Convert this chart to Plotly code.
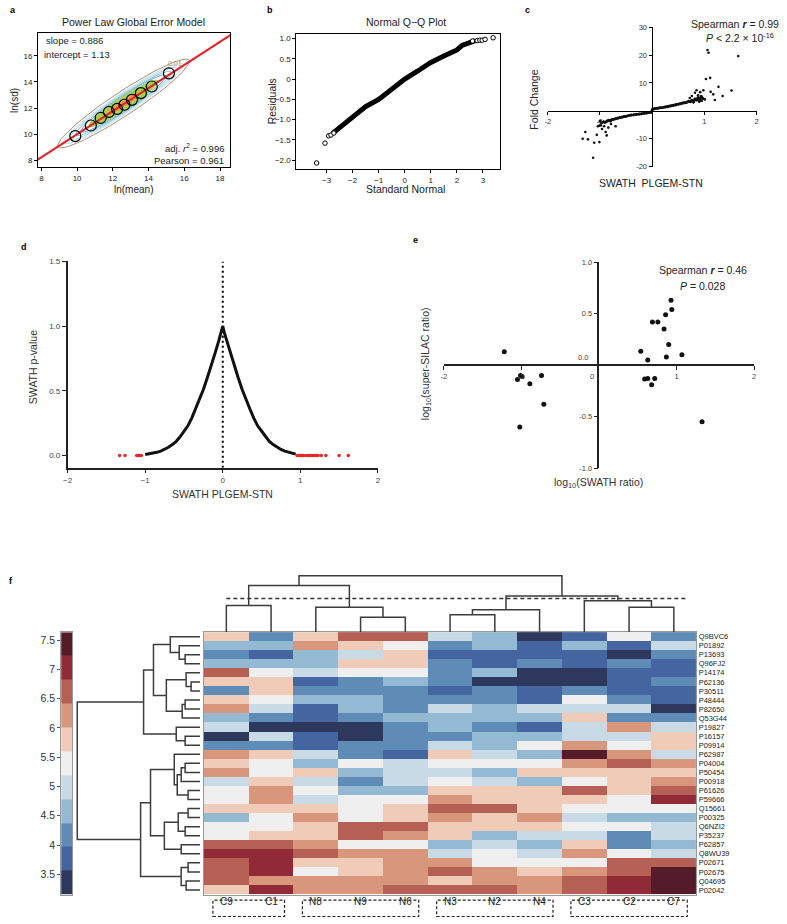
import math
import plotly.graph_objects as go

W, H = 787, 924
FONT = "Arial, Liberation Sans, Helvetica, sans-serif"

# ---------------- DATA ----------------
# panel a
a_mean = [9.9, 10.77, 11.32, 11.78, 12.24, 12.65, 13.07, 13.57, 14.18, 15.14]
a_sd = [9.85, 10.66, 11.24, 11.70, 11.93, 12.25, 12.63, 13.14, 13.65, 14.66]
a_slope, a_intercept = 0.886, 1.13
a_fit_x = [7.8, 18.6]
a_density_center = [12.6, 12.35]
a_density_dir = 0.92
a_density_major = [4.95, 4.5, 4.05, 3.6, 3.2, 2.6, 1.2]
a_density_minor = [0.80, 0.68, 0.60, 0.53, 0.47, 0.42, 0.20]
a_density_color = ["#a89276", "#c4e2ee", "#a6d3e6", "#86c2dc", "#62afd0", "#a6d04a", "#ec9b55"]
a_density_fill = [False, False, False, False, False, True, True]

# panel b
b_dense_q = [-2.77, -2.5, -2.2, -2.0, -1.8, -1.5, -1.0, -0.5, 0.0, 0.5, 1.0, 1.5, 2.0, 2.2, 2.5, 2.7]
b_dense_r = [-1.34, -1.2, -1.03, -0.91, -0.82, -0.68, -0.5, -0.23, 0.0, 0.2, 0.41, 0.57, 0.72, 0.83, 0.9, 0.95]
b_tail_q = [-3.38, -3.06, -2.92, -2.83, -2.72, 2.6, 2.78, 2.88, 2.97, 3.08, 3.39]
b_tail_r = [-2.07, -1.58, -1.40, -1.38, -1.33, 0.94, 0.95, 0.96, 0.96, 0.98, 1.02]

# panel c
c_band_stn = [-1.0, -0.97, -0.93, -0.9, -0.86, -0.83, -0.8, -0.77, -0.74, -0.7, -0.66, -0.62, -0.58, -0.54,
              -0.5, -0.45, -0.4, -0.35, -0.3, -0.25, -0.2, -0.15, -0.1, -0.06, -0.02,
              0.01, 0.05, 0.1, 0.15, 0.2, 0.25, 0.3, 0.35, 0.4, 0.45, 0.5, 0.54, 0.58, 0.62, 0.66,
              0.7, 0.73, 0.76, 0.79, 0.82, 0.85, 0.88, 0.91, 0.94, 0.97]
c_band_fc = [-3.6, -4.3, -3.9, -4.1, -3.6, -3.4, -3.6, -3.1, -3.0, -2.8, -2.6, -2.4, -2.2, -2.0,
             -1.9, -1.7, -1.5, -1.4, -1.2, -1.1, -1.0, -0.9, -0.8, -0.6, -0.5,
             0.6, 0.8, 0.9, 1.1, 1.2, 1.4, 1.5, 1.7, 1.9, 2.1, 2.4, 2.5, 2.8, 2.9, 3.1,
             3.4, 3.3, 3.8, 3.2, 4.2, 3.9, 4.8, 3.6, 5.2, 4.4]
c_out_stn = [1.06, 1.08, 1.65, 1.03, 1.11, 1.27, 1.52, 1.35, 1.2, 1.17, 0.98, 0.92, 0.85, 0.82, 1.01, 0.76,
             0.88, 0.95, 1.12, 0.72, 0.9,
             -1.33, -1.23, -1.28, -1.06, -1.01, -1.11, -1.13, -1.04, -0.96, -0.92, -0.87, -0.89,
             -1.01, -0.9, -0.79, -0.7, -0.84, -0.98]
c_out_fc = [21.8, 20.8, 19.6, 11.4, 11.8, 8.6, 7.3, 5.3, 3.9, 5.9, 7.4, 6.7, 7.4, 6.5, 4.1, 5.3,
            5.6, 3.6, 6.8, 4.6, 3.3,
            -10.0, -10.2, -7.6, -8.6, -11.2, -11.4, -16.8, -5.5, -6.5, -5.5, -8.8, -7.6,
            -5.3, -4.1, -4.7, -5.5, -6.0, -5.2]

# panel d
d_stn = [-1.0, -0.95, -0.9, -0.85, -0.8, -0.75, -0.7, -0.65, -0.6, -0.55, -0.5, -0.45, -0.4, -0.35,
         -0.3, -0.25, -0.2, -0.15, -0.1, -0.05, -0.02, 0.0, 0.02, 0.05, 0.1, 0.15, 0.2, 0.25, 0.3,
         0.35, 0.4, 0.45, 0.5, 0.55, 0.6, 0.65, 0.7, 0.75, 0.8, 0.85, 0.9, 0.94]
d_pval = [0.008, 0.012, 0.017, 0.025, 0.034, 0.047, 0.064, 0.085, 0.11, 0.145, 0.19, 0.23, 0.29, 0.36,
          0.43, 0.51, 0.60, 0.69, 0.79, 0.89, 0.95, 1.0, 0.95, 0.89, 0.79, 0.69, 0.60, 0.51, 0.43,
          0.36, 0.29, 0.23, 0.19, 0.145, 0.11, 0.085, 0.064, 0.047, 0.034, 0.025, 0.017, 0.011]
d_sig_stn = [-1.33, -1.26, -1.11, -1.09, -1.07, -1.05, 0.96, 0.98, 1.0, 1.02, 1.04, 1.07, 1.09, 1.11,
             1.13, 1.15, 1.17, 1.19, 1.21, 1.23, 1.27, 1.33, 1.50, 1.62]
d_sig_pval = [0.0, 0.0, 0.0, 0.0, 0.0, 0.0, 0.0, 0.0, 0.0, 0.0, 0.0, 0.0, 0.0, 0.0,
              0.0, 0.0, 0.0, 0.0, 0.0, 0.0, 0.0, 0.0, 0.0, 0.0]

# panel e
e_swath = [-1.22, -1.05, -0.99, -1.01, -0.89, -0.74, -0.71, -1.02, 0.54, 0.63, 0.59, 0.63, 0.68, 0.72,
           0.69, 0.76, 0.84, 0.86, 0.87, 0.90, 0.93, 0.94, 1.07, 1.33]
e_silac = [0.13, -0.14, -0.11, -0.10, -0.18, -0.10, -0.38, -0.60, 0.135, 0.05, -0.135, -0.13, -0.19, -0.13,
           0.42, 0.42, 0.35, 0.49, 0.08, 0.20, 0.63, 0.54, 0.10, -0.55]

# panel f heatmap
samples = ["C9", "C1", "N8", "N9", "N6", "N3", "N2", "N4", "C3", "C2", "C7"]
sample_groups = [[0, 1], [2, 3, 4], [5, 6, 7], [8, 9, 10]]
proteins = ["Q9BVC6", "P01892", "P13693", "Q96FJ2", "P14174", "P62136", "P30511", "P48444", "P82650",
            "Q53G44", "P19827", "P16157", "P09914", "P62987", "P04004", "P50454", "P00918", "P61626",
            "P59666", "Q15661", "P00325", "Q6NZI2", "P35237", "P62857", "Q8WU39", "P02671", "P02675",
            "Q04695", "P02042"]
expr = [
    [5.8, 4.2, 5.8, 6.6, 6.6, 5.0, 4.6, 3.4, 3.8, 5.4, 4.2],
    [4.6, 4.6, 6.2, 5.8, 5.4, 4.2, 4.6, 3.8, 4.6, 3.8, 5.0],
    [4.2, 3.8, 4.6, 5.0, 5.8, 3.8, 3.8, 3.8, 3.8, 3.4, 4.2],
    [4.6, 4.6, 4.6, 5.8, 5.8, 4.2, 3.8, 4.2, 3.8, 4.2, 3.8],
    [6.6, 5.4, 5.0, 5.4, 5.4, 4.2, 4.6, 3.4, 3.4, 3.8, 3.8],
    [5.8, 5.8, 3.8, 4.2, 4.6, 4.2, 3.4, 3.4, 3.4, 3.8, 4.2],
    [4.2, 5.8, 4.2, 4.2, 4.2, 3.8, 4.2, 3.8, 4.2, 3.8, 3.8],
    [5.8, 5.4, 4.6, 4.6, 4.2, 4.2, 4.2, 3.8, 5.4, 4.2, 3.8],
    [6.2, 5.0, 3.8, 4.6, 4.2, 5.0, 4.6, 5.0, 5.0, 5.0, 3.4],
    [4.6, 4.2, 3.8, 4.2, 4.6, 4.6, 4.6, 4.6, 5.8, 4.2, 4.2],
    [5.0, 3.4, 3.4, 3.4, 4.2, 4.6, 4.2, 3.8, 5.0, 6.2, 5.0],
    [3.4, 5.0, 3.8, 3.4, 4.2, 4.2, 4.6, 4.6, 5.0, 5.0, 5.8],
    [4.2, 4.2, 3.8, 4.2, 4.2, 5.0, 4.6, 5.4, 6.2, 5.4, 5.8],
    [6.2, 5.8, 5.0, 4.2, 3.8, 5.8, 5.0, 4.6, 7.4, 6.2, 5.0],
    [5.8, 5.4, 4.6, 5.4, 5.0, 5.4, 5.4, 5.4, 6.2, 6.6, 6.2],
    [6.2, 5.4, 5.8, 4.6, 5.0, 5.0, 4.6, 5.8, 5.8, 5.8, 5.8],
    [5.0, 5.8, 5.0, 4.2, 5.0, 5.4, 5.0, 4.6, 5.4, 5.8, 6.2],
    [5.4, 6.2, 5.4, 4.6, 4.6, 5.8, 5.8, 5.8, 6.6, 5.8, 6.6],
    [5.4, 6.2, 5.0, 5.4, 5.4, 6.2, 5.8, 5.8, 5.8, 5.4, 7.0],
    [5.8, 5.8, 5.8, 5.4, 5.8, 6.6, 6.6, 5.8, 5.4, 5.4, 5.4],
    [4.6, 5.4, 6.2, 5.4, 5.8, 6.2, 5.8, 6.2, 5.0, 4.6, 4.6],
    [5.4, 5.4, 5.8, 6.6, 6.6, 5.8, 5.8, 5.8, 5.4, 5.4, 5.0],
    [5.4, 5.8, 5.8, 6.6, 6.2, 5.8, 4.6, 5.0, 5.0, 4.2, 5.0],
    [6.6, 6.6, 6.2, 5.4, 5.4, 4.6, 5.0, 4.6, 5.8, 4.2, 4.6],
    [7.0, 7.0, 6.6, 6.2, 6.2, 5.0, 5.4, 5.0, 6.2, 5.4, 5.0],
    [6.6, 7.0, 5.8, 5.8, 6.2, 6.2, 5.4, 5.4, 5.4, 6.6, 6.6],
    [6.6, 7.0, 5.4, 5.8, 6.2, 6.6, 6.2, 5.8, 6.2, 6.6, 7.4],
    [6.6, 6.2, 6.2, 6.2, 6.2, 5.8, 6.2, 6.2, 6.6, 7.0, 7.4],
    [5.8, 7.0, 6.2, 6.2, 6.6, 6.6, 6.6, 6.2, 6.6, 7.0, 7.4],
]
cb_min, cb_max = 3.156, 7.635
cb_levels = [3.36, 3.77, 4.17, 4.58, 4.99, 5.40, 5.80, 6.21, 6.62, 7.03, 7.43]
cb_ticks = [3.5, 4, 4.5, 5, 5.5, 6, 6.5, 7, 7.5]
cb_colors = ["#2e385c", "#4465a0", "#5f8cb7", "#93bad2", "#c8dae5", "#efefef",
             "#f0ccb8", "#d8967c", "#b55f55", "#8f2a36", "#541b2a"]

# dendrograms: [height, left, right]; leaves are indices
row_tree = [124,
            [57, [47, [30, 0, [21, 1, [15, 2, 3]]],
                  [34, [14, 4, [9, 5, 6]], [18, [15, 7, 8], 9]]],
             [24, 10, [15, 11, 12]]],
            [60, [50, [26, 13, [23, [19, [15, 14, 15], 16], [12, 17, 18]]],
                  [36, [22, [12, 19, 20], [15, 21, 22]], [19, 23, 24]]],
             [19, [12, 25, 26], [14, 27, 28]]]]
col_tree = [57,
            [47, [27, 0, 1], [25, 2, [15, 3, 4]]],
            [36.6, [22.6, [17.6, 5, 6], 7], [31.6, 8, [25, 9, 10]]]]
col_cut_height = 34


# ---------------- HELPERS (page pixel -> paper) ----------------
def xdom(a, b):
    return [a / W, b / W]


def ydom(top, bottom):
    return [1 - bottom / H, 1 - top / H]


def PX(x):
    return x / W


def PY(y):
    return 1 - y / H


def dendro(node, ps, hs):
    if isinstance(node, int):
        return node, 0
    h, a, b = node
    pa, ha = dendro(a, ps, hs)
    pb, hb = dendro(b, ps, hs)
    ps += [pa, pa, pb, pb, None]
    hs += [ha, h, h, hb, None]
    return (pa + pb) / 2, h


annotations = []


def ann(text, x, y, size=10, color="#222", xanchor="center", yanchor="middle", angle=0, bold=False):
    annotations.append(dict(text=("<b>%s</b>" % text) if bold else text, x=PX(x), y=PY(y),
                            xref="paper", yref="paper", showarrow=False, xanchor=xanchor,
                            yanchor=yanchor, textangle=angle,
                            font=dict(size=size, color=color, family=FONT)))


fig = go.Figure()
layout = dict(width=W, height=H, margin=dict(l=0, r=0, t=0, b=0), paper_bgcolor="white",
              plot_bgcolor="rgba(0,0,0,0)", showlegend=False, font=dict(family=FONT))

# ---------------- PANEL A ----------------
th = math.atan(a_density_dir)
for k in range(len(a_density_major)):
    A, B = a_density_major[k], a_density_minor[k]
    xs, ys = [], []
    for i in range(73):
        t = 2 * math.pi * i / 72
        u, v = A * math.cos(t), B * math.sin(t)
        xs.append(a_density_center[0] + u * math.cos(th) - v * math.sin(th))
        ys.append(a_density_center[1] + u * math.sin(th) + v * math.cos(th))
    fig.add_trace(go.Scatter(x=xs, y=ys, mode="lines", xaxis="x", yaxis="y",
                             line=dict(color=a_density_color[k], width=1.0),
                             fill="toself" if a_density_fill[k] else None,
                             fillcolor=a_density_color[k] if a_density_fill[k] else None,
                             hoverinfo="skip"))
fig.add_trace(go.Scatter(x=a_fit_x, y=[a_slope * v + a_intercept for v in a_fit_x], mode="lines",
                         xaxis="x", yaxis="y", line=dict(color="#e0262b", width=2.2)))
fig.add_trace(go.Scatter(x=a_mean, y=a_sd, mode="markers", xaxis="x", yaxis="y",
                         marker=dict(size=11, color="rgba(0,0,0,0)", line=dict(color="black", width=1.2))))

box_axis = dict(showline=True, mirror=True, linecolor="black", linewidth=1, ticks="outside", ticklen=3,
                tickcolor="black", showgrid=False, zeroline=False, tickfont=dict(size=8, color="#222"))
layout["xaxis"] = dict(box_axis, domain=xdom(33.3, 227.7), range=[7.81, 18.58], anchor="y",
                       tickvals=[8, 10, 12, 14, 16, 18])
layout["yaxis"] = dict(box_axis, domain=ydom(29.3, 165), range=[7.45, 17.75], anchor="x",
                       tickvals=[8, 10, 12, 14, 16])
ann("a", 3, 6, size=9, bold=True, color="black", xanchor="left")
ann("Power Law Global Error Model", 130, 18, size=10.5)
ann("slope = 0.886", 39, 37, size=9.5, xanchor="left")
ann("intercept = 1.13", 37, 51, size=9.5, xanchor="left")
ann("adj. <i>r</i><sup>2</sup> = 0.996", 223, 145, size=9.5, xanchor="right")
ann("Pearson = 0.961", 223, 158, size=9.5, xanchor="right")
ann("0.01", 172, 60, size=7, color="#a89276")
ann("ln(sd)", 9, 97, size=10, angle=-90)
ann("ln(mean)", 130, 187, size=10)

# ---------------- PANEL B ----------------
fig.add_trace(go.Scatter(x=b_dense_q, y=b_dense_r, mode="lines", xaxis="x2", yaxis="y2",
                         line=dict(color="black", width=5)))
fig.add_trace(go.Scatter(x=b_tail_q, y=b_tail_r, mode="markers", xaxis="x2", yaxis="y2",
                         marker=dict(size=4.5, color="white", line=dict(color="black", width=1))))
layout["xaxis2"] = dict(box_axis, domain=xdom(294.3, 500), range=[-4.16, 3.65], anchor="y2",
                        tickvals=[-3, -2, -1, 0, 1, 2, 3])
layout["yaxis2"] = dict(box_axis, domain=ydom(30, 166.7), range=[-2.22, 1.12], anchor="x2",
                        tickvals=[-2, -1.5, -1, -0.5, 0, 0.5, 1],
                        ticktext=["−2.0", "−1.5", "−1.0", "−0.5", "0", "0.5", "1.0"])
ann("b", 263, 6, size=9, bold=True, color="black", xanchor="left")
ann("Normal Q−Q Plot", 405, 18, size=10.5)
ann("Residuals", 270, 98, size=10.5, angle=-90)
ann("Standard Normal", 405, 187, size=10.5)

# ---------------- PANEL C ----------------
fig.add_trace(go.Scatter(x=c_band_stn, y=c_band_fc, mode="lines+markers", xaxis="x3", yaxis="y3",
                         line=dict(color="#111", width=2.5), marker=dict(size=3, color="#111")))
fig.add_trace(go.Scatter(x=c_out_stn, y=c_out_fc, mode="markers", xaxis="x3", yaxis="y3",
                         marker=dict(size=2.6, color="#111")))
cross_axis = dict(showline=True, linecolor="black", linewidth=1.3, ticks="outside", ticklen=3,
                  tickcolor="black", showgrid=False, zeroline=False, tickfont=dict(size=7.5, color="#333"))
layout["xaxis3"] = dict(cross_axis, domain=xdom(548.3, 759.3), range=[-2, 2], anchor="free",
                        position=PY(108.3), tickvals=[-2, -1, 1, 2], ticktext=["-2", "-1", "1", "2"])
layout["yaxis3"] = dict(cross_axis, domain=ydom(23.3, 164.3), range=[-20, 30], anchor="free",
                        position=PX(653.3), tickvals=[-20, -10, 10, 20, 30],
                        ticktext=["-20", "-10", "10", "20", "30"])
ann("c", 523, 6, size=9, bold=True, color="black", xanchor="left")
ann("Spearman <b><i>r</i></b> = 0.99", 737, 20, size=10.5)
ann("<i>P</i> &lt; 2.2 × 10<sup>-16</sup>", 743, 34, size=10.5)
ann("Fold Change", 534, 97, size=10.5, angle=-90)
ann("SWATH  PLGEM-STN", 653, 181, size=10.5)

# ---------------- PANEL D ----------------
fig.add_trace(go.Scatter(x=[0, 0], y=[-0.094, 1.5], mode="lines", xaxis="x4", yaxis="y4",
                         line=dict(color="black", width=2, dash="2px,3px")))
fig.add_trace(go.Scatter(x=d_stn, y=d_pval, mode="lines", xaxis="x4", yaxis="y4",
                         line=dict(color="#111", width=3)))
fig.add_trace(go.Scatter(x=d_sig_stn, y=d_sig_pval, mode="markers", xaxis="x4", yaxis="y4",
                         marker=dict(size=3.5, color="#e32a2a")))
side_axis = dict(showline=True, linecolor="#222", linewidth=1.5, ticks="outside", ticklen=4,
                 tickcolor="#222", showgrid=False, zeroline=False, tickfont=dict(size=8, color="#444"))
layout["xaxis4"] = dict(side_axis, domain=xdom(63.3, 376.7), range=[-2, 2], anchor="y4",
                        tickvals=[-2, -1, 0, 1, 2])
layout["yaxis4"] = dict(side_axis, domain=ydom(260, 468.3), range=[-0.094, 1.5], anchor="x4",
                        tickvals=[0, 0.5, 1.0, 1.5], ticktext=["0.0", "0.5", "1.0", "1.5"])
ann("d", 19, 245, size=9, bold=True, color="black")
ann("SWATH p-value", 29, 367, size=10.5, angle=-90, color="#333")
ann("SWATH PLGEM-STN", 220, 495, size=10.5, color="#333")

# ---------------- PANEL E ----------------
fig.add_trace(go.Scatter(x=e_swath, y=e_silac, mode="markers", xaxis="x5", yaxis="y5",
                         marker=dict(size=5, color="#111")))
layout["xaxis5"] = dict(side_axis, domain=xdom(443.3, 756.7), range=[-2, 2], anchor="free",
                        position=PY(364.7), tickvals=[-2, -1, 1, 2], ticktext=["-2", "-1", "1", "2"],
                        tickfont=dict(size=7.5, color="#444"))
layout["yaxis5"] = dict(side_axis, domain=ydom(260.7, 468.7), range=[-1, 1], anchor="free",
                        position=PX(599.5), tickvals=[-1, -0.5, 0.5, 1],
                        ticktext=["-1.0", "-0.5", "0.5", "1.0"], tickfont=dict(size=7.5, color="#444"))
ann("e", 415, 238, size=9, bold=True, color="black")
ann("0.0", 591, 357, size=7.5, color="#444", xanchor="right")
ann("0", 593, 376, size=7.5, color="#444")
ann("Spearman <b><i>r</i></b> = 0.46", 705, 269, size=10.5)
ann("<i>P</i> = 0.028", 705, 285, size=10.5)
ann("log<sub>10</sub>(super-SILAC ratio)", 426, 363, size=10.5, angle=-90, color="#333")
ann("log<sub>10</sub>(SWATH ratio)", 600, 484, size=10.5, color="#333")

# ---------------- PANEL F ----------------
cscale = []
n_lv = len(cb_colors)
for k, c in enumerate(cb_colors):
    cscale.append([k / n_lv, c])
    cscale.append([(k + 1) / n_lv, c])

fig.add_trace(go.Heatmap(z=expr, x=list(range(len(samples))), y=list(range(len(proteins))),
                         xaxis="x6", yaxis="y6", colorscale=cscale, zmin=cb_min, zmax=cb_max,
                         showscale=False, xgap=0, ygap=0))
layout["xaxis6"] = dict(domain=xdom(201, 698.3), range=[-0.5, len(samples) - 0.5], anchor="y6",
                        showticklabels=False, ticks="", showgrid=False, zeroline=False,
                        showline=True, mirror=True, linecolor="#999", linewidth=1)
layout["yaxis6"] = dict(domain=ydom(634.3, 899.3), range=[len(proteins) - 0.5, -0.5], anchor="x6",
                        side="right", tickvals=list(range(len(proteins))), ticktext=proteins, ticks="",
                        tickfont=dict(size=7.5, color="#222"), showgrid=False, zeroline=False,
                        showline=True, mirror=True, linecolor="#999", linewidth=1)

# row dendrogram
rp, rh = [], []
dendro(row_tree, rp, rh)
fig.add_trace(go.Scatter(x=rh, y=rp, mode="lines", xaxis="x7", yaxis="y7",
                         line=dict(color="#3c3c3c", width=1.5), hoverinfo="skip"))
layout["xaxis7"] = dict(domain=xdom(60, 197), range=[137, 0], anchor="y7", visible=False)
layout["yaxis7"] = dict(domain=ydom(634.3, 899.3), range=[len(proteins) - 0.5, -0.5], anchor="x7",
                        visible=False)

# column dendrogram
cp, ch = [], []
dendro(col_tree, cp, ch)
fig.add_trace(go.Scatter(x=cp, y=ch, mode="lines", xaxis="x8", yaxis="y8",
                         line=dict(color="#3c3c3c", width=1.5), hoverinfo="skip"))
fig.add_trace(go.Scatter(x=[0, len(samples) - 0.7], y=[col_cut_height, col_cut_height], mode="lines",
                         xaxis="x8", yaxis="y8", line=dict(color="#333", width=1.5, dash="4px,3px"),
                         hoverinfo="skip"))
layout["xaxis8"] = dict(domain=xdom(201, 698.3), range=[-0.5, len(samples) - 0.5], anchor="y8",
                        visible=False)
layout["yaxis8"] = dict(domain=ydom(570, 634.3), range=[0, 64.3], anchor="x8", visible=False)

# colour key
fig.add_trace(go.Heatmap(z=[[v] for v in cb_levels], x=[0], y=cb_levels, xaxis="x9", yaxis="y9",
                         colorscale=cscale, zmin=cb_min, zmax=cb_max, showscale=False))
layout["xaxis9"] = dict(domain=xdom(56.7, 68), range=[-0.5, 0.5], anchor="y9", showticklabels=False,
                        ticks="", showgrid=False, zeroline=False, showline=True, mirror=True,
                        linecolor="#999", linewidth=1)
layout["yaxis9"] = dict(domain=ydom(634.3, 899.3), range=[cb_min, cb_max], anchor="x9",
                        tickvals=cb_ticks, ticktext=["%g" % t for t in cb_ticks], ticks="outside",
                        ticklen=3, tickcolor="#555", tickfont=dict(size=10.5, color="#333"),
                        showgrid=False, zeroline=False, showline=True, mirror=True,
                        linecolor="#999", linewidth=1)

ann("f", 6, 583, size=9, bold=True, color="black")

shapes = []
for g in sample_groups:
    shapes.append(dict(type="rect", xref="x6", yref="paper", x0=g[0] - 0.3, x1=g[-1] + 0.3,
                       y0=PY(921.5), y1=PY(905), line=dict(color="#222", width=1.2, dash="3px,2px")))
    for i in g:
        annotations.append(dict(text=samples[i], x=i, y=PY(913.5), xref="x6", yref="paper",
                                showarrow=False, font=dict(size=10, color="#222", family=FONT)))

layout["annotations"] = annotations
layout["shapes"] = shapes
fig.update_layout(**layout)
fig.write_html("out.html", config={"displayModeBar": False},
               post_script="document.body.style.margin='0';document.body.style.overflow='hidden';")
